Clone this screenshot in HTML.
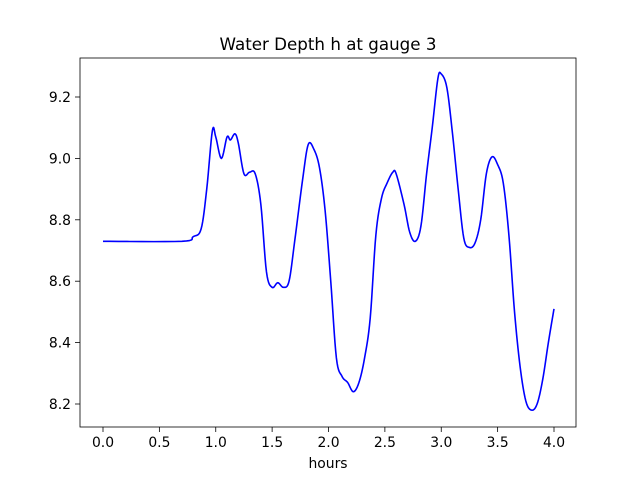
<!DOCTYPE html>
<html><head><meta charset="utf-8"><style>
body{margin:0;background:#fff;}
svg text{font-family:"DejaVu Sans","Liberation Sans",sans-serif;fill:#000;}
</style></head><body>
<svg id="chart" width="640" height="480" xmlns="http://www.w3.org/2000/svg">
<rect width="640" height="480" fill="#fff"/>
<text x="328" y="50" font-size="16.7" text-anchor="middle">Water Depth h at gauge 3</text>
<g id="xt"></g>
<g id="yt"></g>
<polyline id="line" fill="none" stroke="#0000ff" stroke-width="1.6" stroke-linejoin="round"/>
<rect x="80" y="58" width="496" height="369" fill="none" stroke="#000" stroke-width="0.8"/>
<text x="328" y="468" font-size="13.9" text-anchor="middle">hours</text>
</svg>
<script>
const hours=[0,0.7,0.8,0.87,0.92,0.97,1.0,1.05,1.1,1.13,1.17,1.2,1.25,1.3,1.35,1.4,1.45,1.5,1.55,1.6,1.65,1.7,1.77,1.82,1.87,1.92,1.97,2.02,2.07,2.12,2.17,2.22,2.27,2.32,2.37,2.42,2.47,2.52,2.57,2.6,2.67,2.72,2.77,2.82,2.87,2.92,2.97,3.0,3.05,3.1,3.15,3.2,3.25,3.3,3.35,3.4,3.45,3.5,3.55,3.6,3.65,3.7,3.75,3.8,3.85,3.9,3.95,4.0];
const depth=[8.73,8.73,8.745,8.77,8.9,9.09,9.07,9.0,9.07,9.06,9.08,9.05,8.95,8.955,8.95,8.85,8.63,8.58,8.595,8.58,8.6,8.73,8.93,9.045,9.03,8.97,8.83,8.6,8.35,8.29,8.27,8.24,8.27,8.35,8.48,8.75,8.87,8.92,8.955,8.95,8.85,8.76,8.73,8.78,8.95,9.1,9.26,9.275,9.23,9.08,8.9,8.74,8.71,8.725,8.8,8.95,9.005,8.98,8.92,8.75,8.5,8.32,8.21,8.18,8.2,8.28,8.4,8.51];
const xTicks=[0,0.5,1,1.5,2,2.5,3,3.5,4];
const xTickLabels=["0.0","0.5","1.0","1.5","2.0","2.5","3.0","3.5","4.0"];
const yTicks=[8.2,8.4,8.6,8.8,9.0,9.2];
const yTickLabels=["8.2","8.4","8.6","8.8","9.0","9.2"];
const X=v=>103+v*112.75, Y=v=>97+(9.2-v)*307;
const NS="http://www.w3.org/2000/svg";
const xt=document.getElementById('xt'), yt=document.getElementById('yt');
xTicks.forEach((t,i)=>{
 const l=document.createElementNS(NS,'line');
 
 
 l.setAttribute('x1',X(t));l.setAttribute('x2',X(t));l.setAttribute('y1',427);l.setAttribute('y2',432);l.setAttribute('stroke','#000');l.setAttribute('stroke-width','0.8');xt.appendChild(l);
 const s=document.createElementNS(NS,'text');
 
 
 s.setAttribute('x',X(t));s.setAttribute('y',447);s.setAttribute('font-size','13.9');s.setAttribute('text-anchor','middle');s.textContent=xTickLabels[i];xt.appendChild(s);
});
yTicks.forEach((t,i)=>{
 const l=document.createElementNS(NS,'line');
 
 
 l.setAttribute('x1',75);l.setAttribute('x2',80);l.setAttribute('y1',Y(t));l.setAttribute('y2',Y(t));l.setAttribute('stroke','#000');l.setAttribute('stroke-width','0.8');yt.appendChild(l);
 const s=document.createElementNS(NS,'text');
 
 
 s.setAttribute('x',71);s.setAttribute('y',Y(t)+5);s.setAttribute('font-size','13.9');s.setAttribute('text-anchor','end');s.textContent=yTickLabels[i];yt.appendChild(s);
});
// Catmull-Rom smoothing
const pts=[];
for(let i=0;i<hours.length-1;i++){
 const p0=i>0?i-1:i,p3=i+2<hours.length?i+2:i+1;
 for(let k=0;k<8;k++){
  const t=k/8,t2=t*t,t3=t2*t;
  const f=(a,b,c,d)=>0.5*(2*b+(-a+c)*t+(2*a-5*b+4*c-d)*t2+(-a+3*b-3*c+d)*t3);
  pts.push(X(f(hours[p0],hours[i],hours[i+1],hours[p3])).toFixed(2)+','+Y(f(depth[p0],depth[i],depth[i+1],depth[p3])).toFixed(2));
 }
}
pts.push(X(hours[hours.length-1])+','+Y(depth[depth.length-1]));
document.getElementById('line').setAttribute('points',pts.join(' '));
</script>
</body></html>
